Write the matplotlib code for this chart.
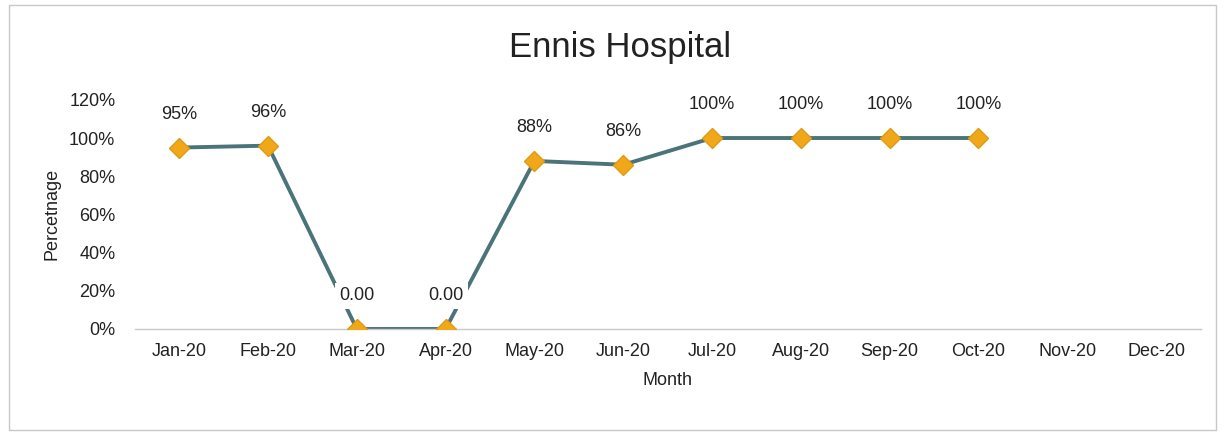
import matplotlib
matplotlib.use("Agg")
import matplotlib.pyplot as plt
from matplotlib.patches import Rectangle

months = ["Jan-20", "Feb-20", "Mar-20", "Apr-20", "May-20", "Jun-20",
          "Jul-20", "Aug-20", "Sep-20", "Oct-20", "Nov-20", "Dec-20"]
values = [95, 96, 0, 0, 88, 86, 100, 100, 100, 100]
labels = ["95%", "96%", "0.00", "0.00", "88%", "86%", "100%", "100%", "100%", "100%"]
yticks = [0, 20, 40, 60, 80, 100, 120]

plt.rcParams['font.family'] = ['Liberation Sans', 'DejaVu Sans']

fig = plt.figure(figsize=(12.25, 4.34), dpi=100)
fig.patches.append(Rectangle((0.007, 0.01), 0.986, 0.978, transform=fig.transFigure,
                             fill=False, edgecolor='#c8c8c8', linewidth=1))
ax = fig.add_axes([0.110, 0.242, 0.870, 0.528])

x = list(range(len(values)))
ax.plot(x, values, color='#4a7478', linewidth=2.8, zorder=2)
ax.plot(x, values, linestyle='none', marker='D', markersize=10,
        markerfacecolor='#f0a81a', markeredgecolor='#e09a10', zorder=4)
for xi, v, lab in zip(x, values, labels):
    ax.annotate(lab, (xi, v), xytext=(0, 24), textcoords='offset points',
                ha='center', va='center', fontsize=13, color='#222222', zorder=3,
                bbox=dict(boxstyle='square,pad=0.25', facecolor='white', edgecolor='none'))

ax.set_xlim(-0.5, len(months) - 0.5)
ax.set_ylim(0, 120)
ax.set_xticks(range(len(months)))
ax.set_xticklabels(months)
ax.set_yticks(yticks)
ax.set_yticklabels([f"{t}%" for t in yticks])
ax.tick_params(axis='both', length=0, labelsize=13, colors='#222222')
ax.tick_params(axis='x', pad=10)
ax.tick_params(axis='y', pad=14)
for s in ['top', 'right', 'left']:
    ax.spines[s].set_visible(False)
ax.spines['bottom'].set_color('#c8c8c8')
ax.spines['bottom'].set_linewidth(1)

ax.set_xlabel("Month", fontsize=13, color='#222222', labelpad=9)
ax.set_ylabel("Percetnage", fontsize=13, color='#222222', labelpad=6)
fig.text(0.506, 0.89, "Ennis Hospital", ha='center', va='center', fontsize=25, color='#222222')

fig.savefig("out.png", dpi=100)
